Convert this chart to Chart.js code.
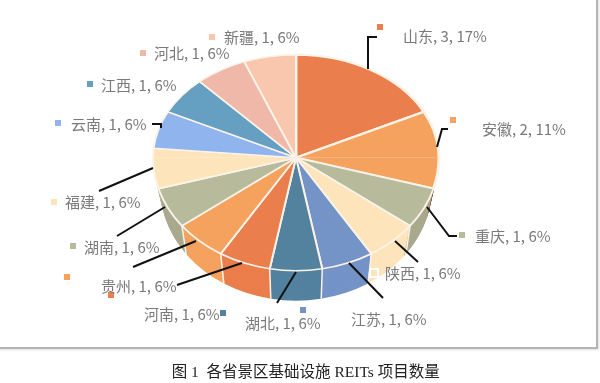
<!DOCTYPE html>
<html>
<head>
<meta charset="utf-8">
<title>图 1</title>
<script src="https://cdn.jsdelivr.net/npm/chart.js@4"></script>
<style>
html, body { margin:0; padding:0; background:#fff; overflow:hidden; }
#frame { position:absolute; left:-4px; top:-4px; width:600px; height:351px; border-right:2px solid #b4b4b4; border-bottom:2px solid #b4b4b4; box-shadow:1px 1px 2px #ddd; }
#c { position:absolute; left:0; top:0; }
</style>
</head>
<body>
<div id="frame"></div>
<canvas id="c" width="600" height="383"></canvas>
<script>
const categories = ['山东','安徽','重庆','陕西','江苏','湖北','河南','贵州','湖南','福建','云南','江西','河北','新疆'];
const values = [3,2,1,1,1,1,1,1,1,1,1,1,1,1];
const percents = [17,11,6,6,6,6,6,6,6,6,6,6,6,6];
const colors = ['#EA7E4C','#F5A25F','#B8BA9C','#FDE4BB','#7493C7','#53829F','#EA7E4C','#F5A25F','#B8BA9C','#FDE4BB','#8FB4EE','#659FC2','#EFB8A8','#F9C7AE'];
const sideColors = ['#EA7E4C','#8a6a50','#A9AA8E','#FDE4BB','#7493C7','#53829F','#EA7E4C','#F5A25F','#A9AA8E','#B9B59C','#8FB4EE','#659FC2','#EFB8A8','#F9C7AE'];

// где стоят подписи, маркеры и выноски
const labelAt = [[403,36],[482,129],[475,236],[385,273],[351,319],[245,323],[144,314],[101,286],[84,247],[65,202],[71,124],[101,85],[154,53],[224,37]];
const markerAt = [[380,27],[453,120],[462,235],[374,273],[303,310],[223,313],[111,295],[67,277],[73,246],[54,202],[58,123],[90,84],[143,53],[212,37]];
const leaders = [
  [[377,37],[368,37],[368,69]],
  [[448,129],[442,129],[437,147]],
  [[457,236],[449,236],[427,207]],
  [[418,262],[395,241]],
  [[383,298],[349,263]],
  [[277,303],[296,272]],
  [[177,285],[242,263]],
  [[133,267],[196,241]],
  [[117,236],[165,207]],
  [[99,191],[153,168]],
  [[152,124],[161,124],[161,128]],
  null, null, null
];

const RADIUS = 143, TOP_RY = 103, BOTTOM_RY = 113, DEPTH = 30;

function squash(ctx, arc, sx, sy, dy) {
  ctx.translate(arc.x, arc.y + dy);
  ctx.scale(sx, sy);
  ctx.translate(-arc.x, -arc.y);
}

const pie3d = {
  id: 'pie3d',
  beforeDatasetsDraw(chart) {
    const ctx = chart.ctx;
    const arcs = chart.getDatasetMeta(0).data;
    const cx = arcs[0].x, cy = arcs[0].y;

    // боковая стенка
    for (let d = DEPTH; d > 0; d--) {
      const k = 1 - 0.05 * d / DEPTH;
      arcs.forEach((arc, i) => {
        const saved = arc.options;
        arc.options = Object.assign({}, saved, { borderWidth: 0, backgroundColor: sideColors[i] });
        ctx.save();
        ctx.beginPath();
        ctx.rect(0, cy + d, chart.width, chart.height);
        ctx.clip();
        squash(ctx, arc, k, BOTTOM_RY / RADIUS, d);
        arc.draw(ctx);
        ctx.restore();
        arc.options = saved;
      });
    }
    // швы на стенке
    ctx.save();
    ctx.strokeStyle = '#fbf3e8';
    ctx.lineWidth = 1.5;
    arcs.forEach(arc => {
      const a = arc.endAngle;
      if (Math.sin(a) <= 0.45) return;
      const x = cx + RADIUS * Math.cos(a), y = cy + BOTTOM_RY * Math.sin(a);
      ctx.beginPath();
      ctx.moveTo(x, y);
      ctx.lineTo(cx + (x - cx) * 0.96, y + DEPTH);
      ctx.stroke();
    });
    ctx.restore();

    // верхняя грань: две половины с разным сжатием
    [[0, cy, TOP_RY], [cy, chart.height, BOTTOM_RY]].forEach(([y0, y1, ry]) => {
      ctx.save();
      ctx.beginPath();
      ctx.rect(0, y0, chart.width, y1 - y0);
      ctx.clip();
      squash(ctx, arcs[0], 1, ry / RADIUS, 0);
      arcs.forEach(arc => arc.draw(ctx));
      ctx.restore();
    });
    return false;
  },
  // после отмены beforeDatasetsDraw afterDatasetsDraw не вызывается
  afterDraw(chart) {
    const ctx = chart.ctx;
    ctx.save();
    ctx.strokeStyle = '#111';
    ctx.lineWidth = 2;
    leaders.forEach(pts => {
      if (!pts) return;
      ctx.beginPath();
      pts.forEach((p, j) => j ? ctx.lineTo(p[0], p[1]) : ctx.moveTo(p[0], p[1]));
      ctx.stroke();
    });
    ctx.font = '15px "Noto Sans CJK SC"';
    ctx.textBaseline = 'middle';
    categories.forEach((name, i) => {
      ctx.fillStyle = '#7a7a7a';
      ctx.fillText(name + ', ' + values[i] + ', ' + percents[i] + '%', labelAt[i][0], labelAt[i][1]);
      const [mx, my] = markerAt[i];
      ctx.strokeStyle = '#fff';
      ctx.lineWidth = 2;
      ctx.strokeRect(mx - 4, my - 4, 8, 8);
      ctx.fillStyle = colors[i];
      ctx.fillRect(mx - 3, my - 3, 6, 6);
    });
    ctx.restore();
  }
};

new Chart(document.getElementById('c'), {
  type: 'pie',
  data: {
    labels: categories,
    datasets: [{
      data: values,
      backgroundColor: colors,
      borderColor: '#fbf3e8',
      borderWidth: [3,3,2,2,2,2,2,2,2,2,2,2,2,2]
    }]
  },
  options: {
    responsive: false,
    animation: false,
    events: [],
    radius: RADIUS,
    layout: { padding: { left: 0, right: 8, top: 0, bottom: 0 } },
    plugins: {
      legend: { display: false },
      tooltip: { enabled: false },
      title: {
        display: true,
        position: 'bottom',
        text: '\u3000\u00a0图 1  各省景区基础设施 REITs 项目数量',
        color: '#222',
        font: { family: '"Liberation Serif","Noto Sans CJK SC"', size: 15.5, weight: 'normal' },
        padding: { top: 48, bottom: 1 }
      }
    }
  },
  plugins: [pie3d]
});
</script>
</body>
</html>
